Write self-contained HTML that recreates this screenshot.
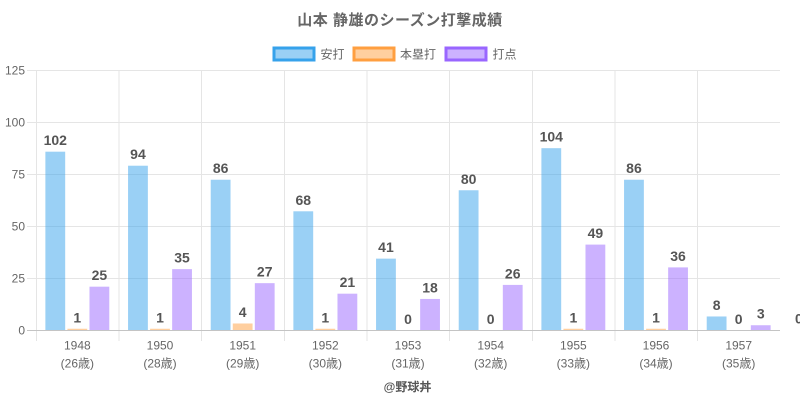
<!DOCTYPE html>
<html><head><meta charset="utf-8"><style>
html,body{margin:0;padding:0;background:#fff;}
svg{display:block;}
text{font-family:"Liberation Sans","Noto Sans CJK JP",sans-serif;}
</style></head><body>
<svg width="800" height="400" viewBox="0 0 800 400" xmlns="http://www.w3.org/2000/svg">
<rect width="800" height="400" fill="#fff"/>
<!-- title -->
<text x="400" y="25" text-anchor="middle" font-size="15" font-weight="bold" fill="#666" letter-spacing="0.5">山本 静雄のシーズン打撃成績</text>
<!-- legend -->
<rect x="274" y="48" width="40" height="12" fill="#9AD0F5" stroke="#36A2EB" stroke-width="3"/>
<text x="320.5" y="58.5" font-size="12" fill="#666">安打</text>
<rect x="354" y="48" width="40" height="12" fill="#FFCF9F" stroke="#FF9F40" stroke-width="3"/>
<text x="400" y="58.5" font-size="12" fill="#666">本塁打</text>
<rect x="446" y="48" width="40" height="12" fill="#CCB2FF" stroke="#9966FF" stroke-width="3"/>
<text x="492.5" y="58.5" font-size="12" fill="#666">打点</text>
<!-- horizontal grid -->
<g stroke="#e5e5e5" stroke-width="1">
<line x1="27" y1="70.5" x2="780" y2="70.5"/>
<line x1="27" y1="122.5" x2="780" y2="122.5"/>
<line x1="27" y1="174.5" x2="780" y2="174.5"/>
<line x1="27" y1="226.5" x2="780" y2="226.5"/>
<line x1="27" y1="278.5" x2="780" y2="278.5"/>
</g>
<!-- vertical grid -->
<g stroke="#e5e5e5" stroke-width="1">
<line x1="36.5" y1="70" x2="36.5" y2="341"/>
<line x1="119" y1="70" x2="119" y2="341"/>
<line x1="201.5" y1="70" x2="201.5" y2="341"/>
<line x1="284.5" y1="70" x2="284.5" y2="341"/>
<line x1="367" y1="70" x2="367" y2="341"/>
<line x1="449.5" y1="70" x2="449.5" y2="341"/>
<line x1="532.5" y1="70" x2="532.5" y2="341"/>
<line x1="615" y1="70" x2="615" y2="341"/>
<line x1="697.5" y1="70" x2="697.5" y2="341"/>
</g>
<!-- y labels -->
<g font-size="12" fill="#666" text-anchor="end">
<text x="25" y="74.5">125</text>
<text x="25" y="126.5">100</text>
<text x="25" y="178.5">75</text>
<text x="25" y="230.5">50</text>
<text x="25" y="282.5">25</text>
<text x="25" y="334.5">0</text>
</g>
<!-- bars -->
<g id="bars"></g>
<!-- zero axis -->
<line x1="27" y1="330.5" x2="780" y2="330.5" stroke="#c4c4c4" stroke-width="1"/>
<g id="labels" font-size="14" font-weight="bold" fill="#555" text-anchor="middle"></g>
<!-- x labels -->
<g font-size="12" fill="#666" text-anchor="middle" id="xl"></g>
<text x="795" y="323.5" font-size="14" font-weight="bold" fill="#555">0</text>
<text x="407.5" y="391" text-anchor="middle" font-size="12" font-weight="bold" fill="#555">@野球丼</text>
<script>
(function(){
var ns="http://www.w3.org/2000/svg";
var data=[["1948","26",102,1,25],["1950","28",94,1,35],["1951","29",86,4,27],["1952","30",68,1,21],["1953","31",41,0,18],["1954","32",80,0,26],["1955","33",104,1,49],["1956","34",86,1,36],["1957","35",8,0,3]];
var fills=["rgba(54,162,235,0.5)","rgba(255,159,64,0.5)","rgba(153,102,255,0.5)"];
var bars=document.getElementById("bars"),labels=document.getElementById("labels"),xl=document.getElementById("xl");
var k=1.753, base=330.5, cw=82.667;
data.forEach(function(d,i){
 var c=36+cw*(i+0.5);
 for(var j=0;j<3;j++){
  var v=d[2+j], h=v*k, cx=c+(j-1)*22.05;
  if(h>0){var r=document.createElementNS(ns,"rect");
  r.setAttribute("x",(cx-9.9).toFixed(2));r.setAttribute("y",(base-h).toFixed(2));
  r.setAttribute("width","19.8");r.setAttribute("height",h.toFixed(2));r.setAttribute("fill",fills[j]);bars.appendChild(r);}
  var t=document.createElementNS(ns,"text");
  t.setAttribute("x",cx.toFixed(2));t.setAttribute("y",(base-h-6.5).toFixed(2));t.textContent=String(v);labels.appendChild(t);
 }
 var a=document.createElementNS(ns,"text");a.setAttribute("x",c.toFixed(2));a.setAttribute("y","349.5");a.textContent=d[0];xl.appendChild(a);
 var b=document.createElementNS(ns,"text");b.setAttribute("x",c.toFixed(2));b.setAttribute("y","367.5");b.textContent="("+d[1]+"歳)";xl.appendChild(b);
});
})();
</script>
</svg>
</body></html>
